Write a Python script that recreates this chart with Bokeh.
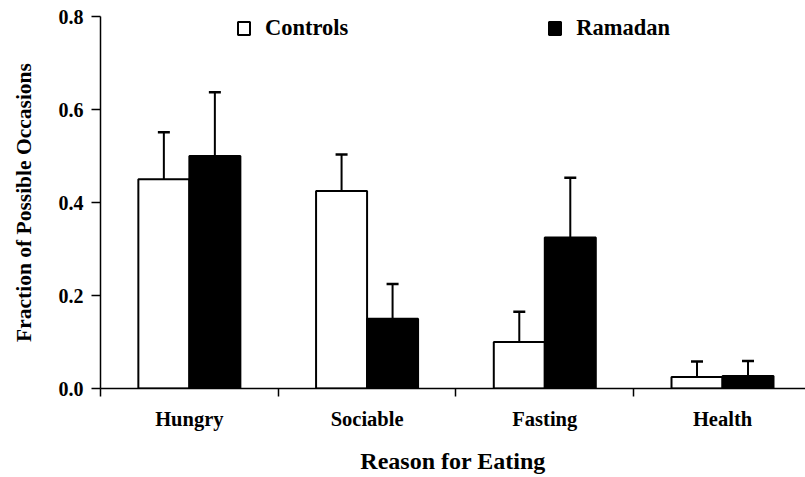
from bokeh.plotting import figure
from bokeh.models import (ColumnDataSource, Range1d, FixedTicker, Whisker, TeeHead,
                          Legend, LegendItem)
from bokeh.transform import dodge
from bokeh.embed import file_html
from bokeh.resources import INLINE

reasons = ["Hungry", "Sociable", "Fasting", "Health"]
controls = [0.45, 0.425, 0.10, 0.025]
controls_err = [0.101, 0.078, 0.065, 0.033]
ramadan = [0.50, 0.15, 0.325, 0.027]
ramadan_err = [0.137, 0.075, 0.128, 0.032]
y_ticks = [0.0, 0.2, 0.4, 0.6, 0.8]

FONT = "Liberation Serif"
centers = [i + 0.5 for i in range(len(reasons))]
bounds = [float(i) for i in range(len(reasons) + 1)]

src = ColumnDataSource(dict(
    x=centers, reason=reasons,
    c=controls, c_up=[v + e for v, e in zip(controls, controls_err)],
    r=ramadan, r_up=[v + e for v, e in zip(ramadan, ramadan_err)],
))

p = figure(width=805, height=477, output_backend="svg", toolbar_location=None,
           x_range=Range1d(0, 3.967), y_range=Range1d(0, 0.8),
           min_border_left=100, min_border_right=0, min_border_top=16, min_border_bottom=89)
p.xgrid.visible = False
p.ygrid.visible = False
p.outline_line_color = None
p.background_fill_color = "white"

BW = 0.287
rc = p.vbar(x=dodge("x", -BW / 2, range=p.x_range), top="c", width=BW, source=src,
            fill_color="white", line_color="black", line_width=2)
rr = p.vbar(x=dodge("x", BW / 2, range=p.x_range), top="r", width=BW, source=src,
            fill_color="black", line_color="black", line_width=2)

for top, up, off in (("c", "c_up", -BW / 2), ("r", "r_up", BW / 2)):
    w = Whisker(source=src, base=dodge("x", off, range=p.x_range), lower=top, upper=up,
                dimension="height", line_color="black", line_width=2,
                upper_head=TeeHead(size=12, line_width=2.5, line_color="black"),
                lower_head=None)
    p.add_layout(w)

# x axis
xa = p.xaxis[0]
xa.ticker = FixedTicker(ticks=centers, minor_ticks=bounds)
xa.major_label_overrides = {c: r for c, r in zip(centers, reasons)}
xa.major_tick_line_color = None
xa.major_tick_out = 8
xa.major_tick_in = 0
xa.minor_tick_out = 8
xa.minor_tick_in = 0
xa.minor_tick_line_color = "black"
xa.minor_tick_line_width = 1.5
xa.axis_line_width = 1.5
xa.major_label_standoff = 11
xa.major_label_text_font = FONT
xa.major_label_text_font_style = "bold"
xa.major_label_text_font_size = "20.5px"
xa.major_label_text_color = "black"
xa.axis_label = "Reason for Eating"
xa.axis_label_text_font = FONT
xa.axis_label_text_font_style = "bold"
xa.axis_label_text_font_size = "24px"
xa.axis_label_text_color = "black"
xa.axis_label_standoff = 15

# y axis
ya = p.yaxis[0]
ya.ticker = FixedTicker(ticks=y_ticks, minor_ticks=[])
ya.major_label_overrides = {t: f"{t:.1f}" for t in y_ticks}
ya.major_tick_out = 9
ya.major_tick_in = 0
ya.major_tick_line_width = 1.5
ya.axis_line_width = 1.5
ya.major_label_standoff = 8
ya.major_label_text_font = FONT
ya.major_label_text_font_style = "bold"
ya.major_label_text_font_size = "20px"
ya.major_label_text_color = "black"
ya.axis_label = "Fraction of Possible Occasions"
ya.axis_label_text_font = FONT
ya.axis_label_text_font_style = "bold"
ya.axis_label_text_font_size = "21.5px"
ya.axis_label_text_color = "black"
ya.axis_label_standoff = 20

legend = Legend(items=[LegendItem(label="Controls", renderers=[rc], index=0),
                       LegendItem(label="Ramadan", renderers=[rr], index=0)],
                orientation="horizontal", location=(136, 347),
                glyph_width=15, glyph_height=16, label_standoff=14, spacing=199,
                padding=0, margin=0,
                label_text_font=FONT, label_text_font_style="bold",
                label_text_font_size="22.5px", label_text_color="black",
                border_line_color=None, background_fill_alpha=0)
p.add_layout(legend)

open("out.html", "w").write(file_html(p, INLINE))
